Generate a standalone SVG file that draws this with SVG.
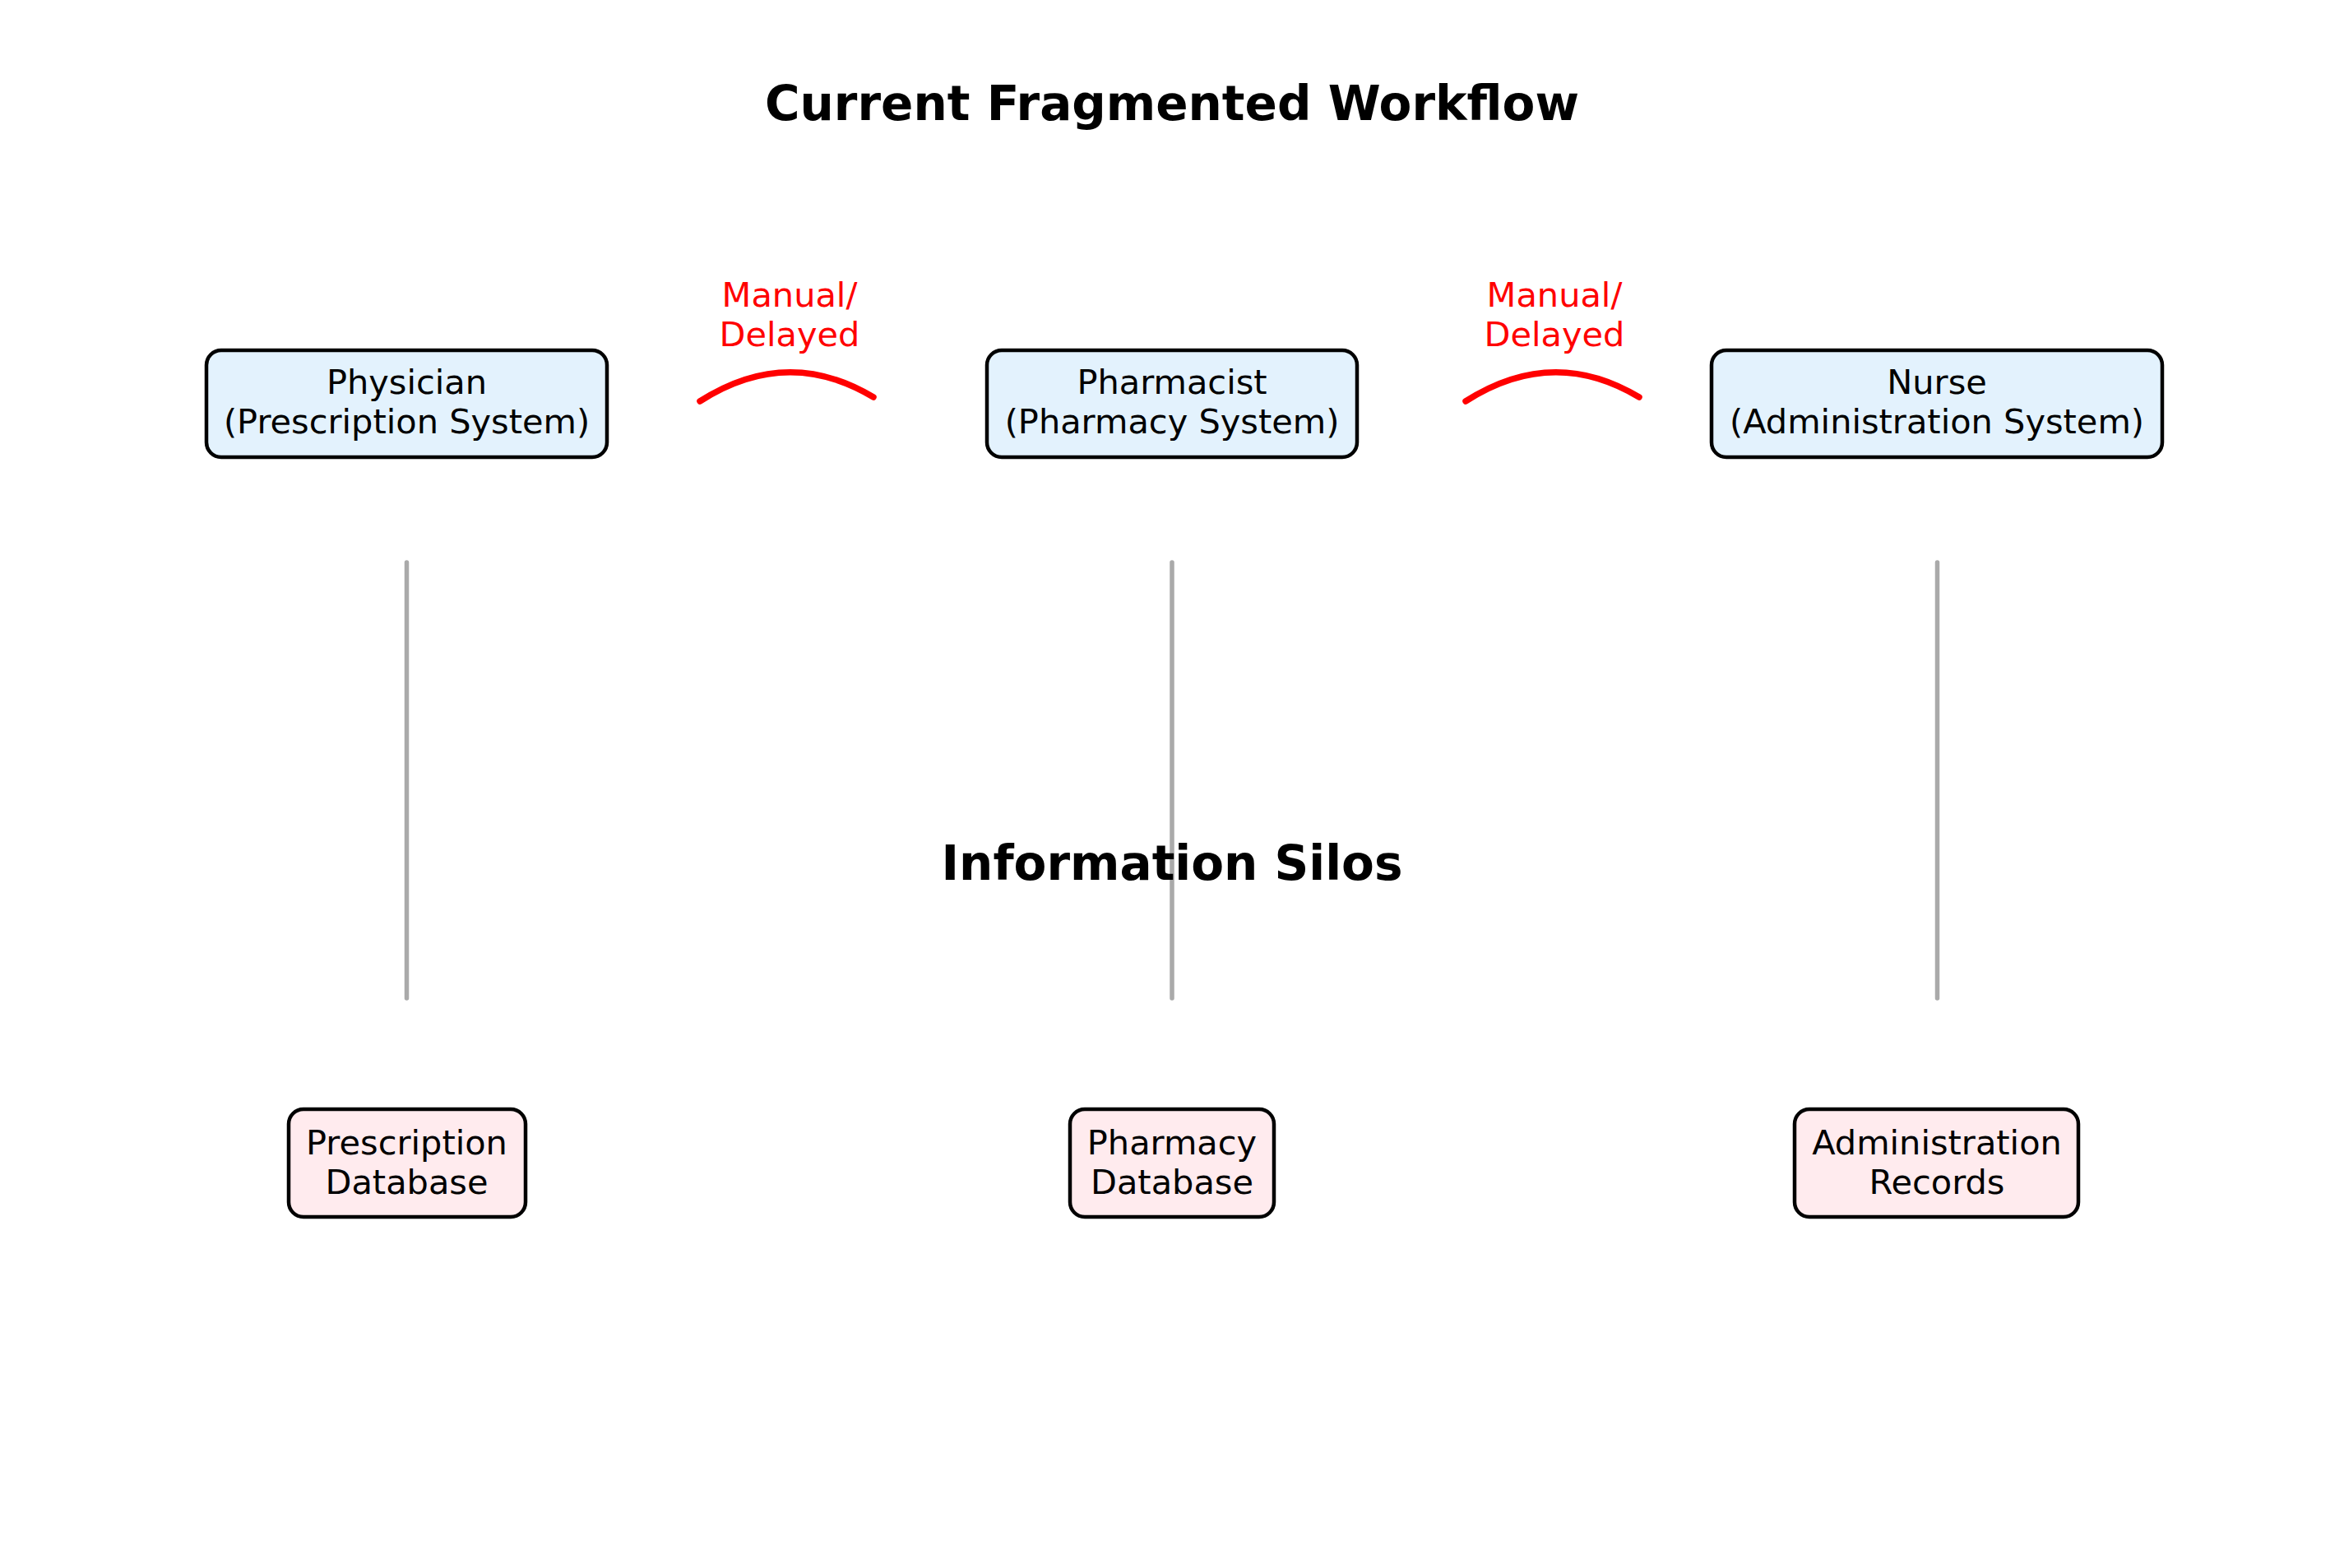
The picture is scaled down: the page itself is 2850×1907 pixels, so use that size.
<svg xmlns="http://www.w3.org/2000/svg" width="2850" height="1907" viewBox="0 0 2850 1907">
<style>
text{font-family:"DejaVu Sans","Liberation Sans",sans-serif;}
.title{font-size:58px;font-weight:bold;fill:#000;text-anchor:middle;}
.lbl{font-size:41.5px;fill:#000;text-anchor:middle;}
.red{font-size:41.5px;fill:#ff0000;text-anchor:middle;}
.sys{fill:#e3f2fd;stroke:#000;stroke-width:4.5;}
.db{fill:#ffebee;stroke:#000;stroke-width:4.5;}
.silo{stroke:#aaaaaa;stroke-width:5.5;stroke-linecap:round;fill:none;}
.flow{stroke:#ff0000;stroke-width:7.5;stroke-linecap:round;fill:none;}
</style>
<rect width="2850" height="1907" fill="#ffffff"/>
<text class="title" x="1425" y="146">Current Fragmented Workflow</text>
<g id="connectors">
<line class="silo" x1="494.5" y1="684" x2="494.5" y2="1214"/>
<line class="silo" x1="1425" y1="684" x2="1425" y2="1214"/>
<line class="silo" x1="2355.5" y1="684" x2="2355.5" y2="1214"/>
<path class="flow" d="M851,488 Q957,420 1062,483"/>
<path class="flow" d="M1782,488 Q1888,420 1993,483"/>
<text class="red" x="960" y="373">Manual/</text>
<text class="red" x="960" y="421">Delayed</text>
<text class="red" x="1890" y="373">Manual/</text>
<text class="red" x="1890" y="421">Delayed</text>
</g>
<g id="physician">
<rect class="sys" x="251" y="426" width="487" height="130" rx="18"/>
<text class="lbl" x="494.5" y="479">Physician</text>
<text class="lbl" x="494.5" y="527">(Prescription System)</text>
</g>
<g id="pharmacist">
<rect class="sys" x="1200" y="426" width="450" height="130" rx="18"/>
<text class="lbl" x="1425" y="479">Pharmacist</text>
<text class="lbl" x="1425" y="527">(Pharmacy System)</text>
</g>
<g id="nurse">
<rect class="sys" x="2081" y="426" width="548" height="130" rx="18"/>
<text class="lbl" x="2355" y="479">Nurse</text>
<text class="lbl" x="2355" y="527">(Administration System)</text>
</g>
<text class="title" x="1425" y="1070">Information Silos</text>
<g id="prescription-db">
<rect class="db" x="351" y="1349" width="288" height="131" rx="18"/>
<text class="lbl" x="494.5" y="1404">Prescription</text>
<text class="lbl" x="494.5" y="1452">Database</text>
</g>
<g id="pharmacy-db">
<rect class="db" x="1301" y="1349" width="248" height="131" rx="18"/>
<text class="lbl" x="1425" y="1404">Pharmacy</text>
<text class="lbl" x="1425" y="1452">Database</text>
</g>
<g id="admin-records">
<rect class="db" x="2182" y="1349" width="345" height="131" rx="18"/>
<text class="lbl" x="2355" y="1404">Administration</text>
<text class="lbl" x="2355" y="1452">Records</text>
</g>
</svg>
